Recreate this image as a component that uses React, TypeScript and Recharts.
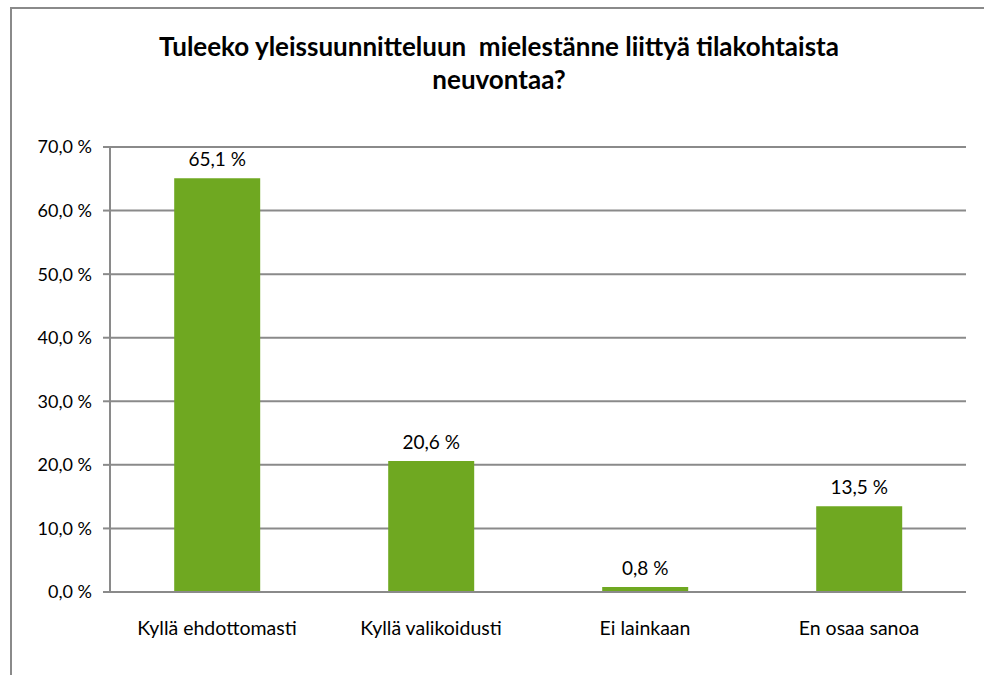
import React from 'react';
import { BarChart, Bar, XAxis, YAxis, CartesianGrid, LabelList } from 'recharts';

const categories = ['Kyllä ehdottomasti', 'Kyllä valikoidusti', 'Ei lainkaan', 'En osaa sanoa'];
const shares = [65.1, 20.6, 0.8, 13.5];
const yTicks = [0, 10, 20, 30, 40, 50, 60, 70];
const edgeTicks = [0, 1, 2, 3, 4];

const data = categories.map((name, i) => ({ name, value: shares[i], edge: i + 0.5 }));

const GRAY = '#8a8a8a';
const FONT = 'Lato, "Open Sans", sans-serif';

const pct = (v: number) => `${v.toFixed(1).replace('.', ',')} %`;

export default function App() {
  return (
    <div style={{ position: 'absolute', left: 0, top: 0, width: 984, height: 675, overflow: 'hidden', background: '#fff', fontFamily: FONT }}>
      {/* chart frame, only top and left edges visible */}
      <div style={{ position: 'absolute', left: 10, top: 7, width: 990, height: 700, border: `2px solid ${GRAY}` }} />
      <div style={{ position: 'absolute', left: 0, top: 30, width: 984, textAlign: 'center', fontWeight: 700, fontSize: 26, lineHeight: '33px', color: '#000' }}>
        <div style={{ marginLeft: 14 }}>Tuleeko yleissuunnitteluun&nbsp; mielestänne liittyä tilakohtaista</div>
        <div style={{ marginLeft: 14 }}>neuvontaa?</div>
      </div>
      <div style={{ position: 'absolute', left: 0, top: 0 }}>
        <BarChart
          width={984}
          height={675}
          data={data}
          margin={{ top: 147, right: 18, bottom: 53, left: 20 }}
          barCategoryGap="30%"
        >
          <CartesianGrid vertical={false} stroke={GRAY} strokeWidth={2} />
          <XAxis
            xAxisId="edges"
            type="number"
            dataKey="edge"
            domain={[0, 4]}
            ticks={edgeTicks}
            height={0}
            axisLine={false}
            tickLine={{ stroke: GRAY, strokeWidth: 2 }}
            tickSize={6}
            tickFormatter={() => ''}
          />
          <XAxis
            xAxisId="cat"
            dataKey="name"
            height={30}
            axisLine={{ stroke: GRAY, strokeWidth: 2 }}
            tickLine={false}
            tickMargin={23}
            tick={{ fill: '#000', fontSize: 19.5, fontFamily: FONT }}
          />
          <YAxis
            domain={[0, 70]}
            ticks={yTicks}
            width={90}
            axisLine={{ stroke: GRAY, strokeWidth: 2 }}
            tickLine={{ stroke: GRAY, strokeWidth: 2 }}
            tickSize={7}
            tickMargin={11}
            tickFormatter={pct}
            tick={{ fill: '#000', fontSize: 18, fontFamily: FONT }}
          />
          <Bar xAxisId="cat" dataKey="value" fill="#6fa821" isAnimationActive={false}>
            <LabelList dataKey="value" position="top" offset={12} formatter={(v: any) => pct(Number(v))} style={{ fill: '#000', fontSize: 19, fontFamily: FONT }} />
          </Bar>
        </BarChart>
      </div>
    </div>
  );
}
